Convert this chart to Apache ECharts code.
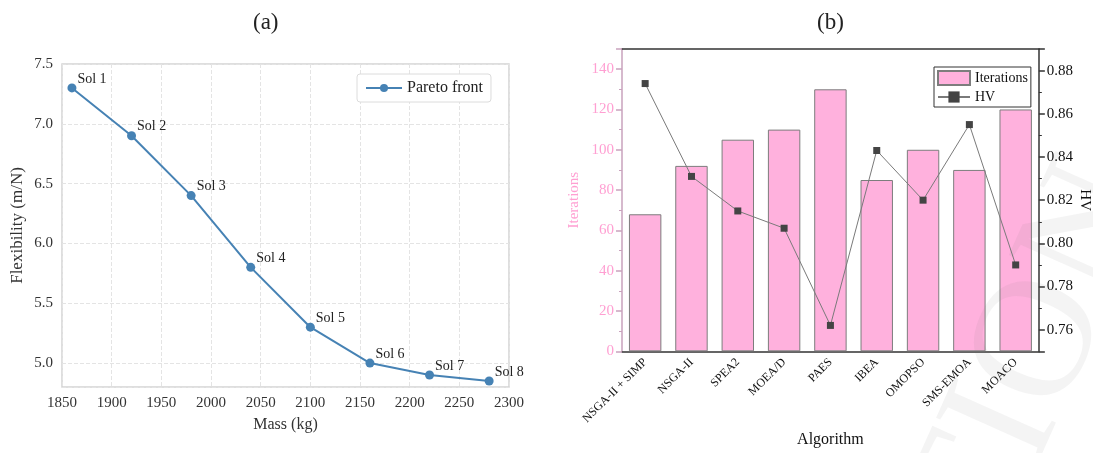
<!DOCTYPE html>
<html>
<head>
<meta charset="utf-8">
<script src="https://cdn.jsdelivr.net/npm/echarts@6/dist/echarts.min.js"></script>
<style>
  html, body { margin: 0; padding: 0; background: #fff; }
  #chart { width: 1093px; height: 453px; }
</style>
</head>
<body>
<div id="chart"></div>
<script>
// (a) Pareto front
const solNames = ['Sol 1', 'Sol 2', 'Sol 3', 'Sol 4', 'Sol 5', 'Sol 6', 'Sol 7', 'Sol 8'];
const massVals = [1860, 1920, 1980, 2040, 2100, 2160, 2220, 2280];
const flexVals = [7.3, 6.9, 6.4, 5.8, 5.3, 5.0, 4.9, 4.85];

// (b) algorithms
const algorithms = ['NSGA-II + SIMP', 'NSGA-II', 'SPEA2', 'MOEA/D', 'PAES', 'IBEA', 'OMOPSO', 'SMS-EMOA', 'MOACO'];
const iterations = [68, 92, 105, 110, 130, 85, 100, 90, 120];
const hvVals = [0.874, 0.831, 0.815, 0.807, 0.762, 0.843, 0.820, 0.855, 0.790];

const serif = 'Liberation Serif';
const chart = echarts.init(document.getElementById('chart'));

chart.setOption({
    backgroundColor: '#fff',
    textStyle: { fontFamily: serif },
    title: [
        { text: '(a)', left: 248, top: 6, textStyle: { fontFamily: serif, fontSize: 23, fontWeight: 'normal', color: '#222' } },
        { text: '(b)', left: 812, top: 6, textStyle: { fontFamily: serif, fontSize: 23, fontWeight: 'normal', color: '#222' } }
    ],
    legend: [
        {
            data: ['Pareto front'],
            left: 357, top: 74,
            orient: 'vertical',
            padding: [6, 8, 6, 8],
            borderColor: '#dcdcdc', borderWidth: 1, borderRadius: 3,
            backgroundColor: '#fff',
            itemWidth: 36, itemHeight: 10,
            textStyle: { fontFamily: serif, fontSize: 16, color: '#222' }
        },
        {
            data: [{ name: 'Iterations', icon: 'rect' }, { name: 'HV' }],
            left: 934, top: 67,
            orient: 'vertical',
            itemGap: 4,
            padding: [3, 3, 3, 3],
            borderColor: '#333', borderWidth: 1, borderRadius: 0,
            backgroundColor: '#fff',
            itemWidth: 32, itemHeight: 14,
            textStyle: { fontFamily: serif, fontSize: 14, color: '#111' }
        }
    ],
    grid: [
        { left: 62, top: 64, width: 447, height: 323, show: true, borderColor: '#d4d4d4', borderWidth: 1.5 },
        { left: 622, top: 49, width: 418, height: 318 }
    ],
    xAxis: [
        {
            gridIndex: 0, type: 'value', min: 1850, max: 2300, interval: 50,
            name: 'Mass (kg)', nameLocation: 'middle', nameGap: 30,
            nameTextStyle: { fontFamily: serif, fontSize: 16, color: '#333' },
            axisLine: { show: false }, axisTick: { show: false },
            axisLabel: { fontFamily: serif, fontSize: 15, color: '#333', margin: 9, formatter: v => String(v) },
            splitLine: { show: true, lineStyle: { color: '#e4e4e4', type: 'dashed' } }
        },
        {
            gridIndex: 1, type: 'category', data: algorithms,
            name: 'Algorithm', nameLocation: 'middle', nameGap: 68,
            nameTextStyle: { fontFamily: serif, fontSize: 16, color: '#111' },
            axisLine: { lineStyle: { color: '#333', width: 1.5 } },
            axisTick: { alignWithLabel: true, length: 6, lineStyle: { color: '#333', width: 1.5 } },
            axisLabel: { rotate: 45, fontFamily: serif, fontSize: 12, color: '#111', margin: 9, interval: 0 }
        },
        {
            gridIndex: 1, type: 'category', data: algorithms, position: 'top',
            axisLine: { lineStyle: { color: '#333', width: 1.5 } },
            axisTick: { alignWithLabel: true, inside: true, length: 6, lineStyle: { color: '#333', width: 1.5 } },
            axisLabel: { show: false }
        }
    ],
    yAxis: [
        {
            gridIndex: 0, type: 'value', min: 4.8, max: 7.5, splitNumber: 5,
            minInterval: 0.5, maxInterval: 0.5,
            name: 'Flexibility (m/N)', nameLocation: 'middle', nameGap: 36,
            nameTextStyle: { fontFamily: serif, fontSize: 17, color: '#333' },
            axisLine: { show: false }, axisTick: { show: false },
            axisLabel: { fontFamily: serif, fontSize: 15, color: '#333', margin: 9, showMinLabel: false,
                formatter: v => v.toFixed(1) },
            splitLine: { show: true, lineStyle: { color: '#e4e4e4', type: 'dashed' } }
        },
        {
            gridIndex: 1, type: 'value', min: 0, max: 150, interval: 20,
            name: 'Iterations', nameLocation: 'middle', nameGap: 40,
            nameTextStyle: { fontFamily: serif, fontSize: 15, color: '#ff9fd2' },
            axisLine: { show: true, lineStyle: { color: '#c9a2bd', width: 1.5 } },
            axisTick: { show: true, length: 6, lineStyle: { color: '#c9a2bd', width: 1.5 } },
            minorTick: { show: true, splitNumber: 2, length: 3, lineStyle: { color: '#c9a2bd', width: 1 } },
            axisLabel: { fontFamily: serif, fontSize: 15, color: '#ff9fd2', margin: 8, showMaxLabel: false },
            splitLine: { show: false }
        },
        {
            gridIndex: 1, type: 'value', min: 0.75, max: 0.89, splitNumber: 7,
            minInterval: 0.02, maxInterval: 0.02,
            position: 'right',
            name: 'HV', nameLocation: 'middle', nameGap: 36, nameRotate: -90,
            nameTextStyle: { fontFamily: serif, fontSize: 15, color: '#111' },
            axisLine: { show: true, lineStyle: { color: '#333', width: 1.5 } },
            axisTick: { show: true, length: 6, lineStyle: { color: '#333', width: 1.5 } },
            minorTick: { show: true, splitNumber: 2, length: 3, lineStyle: { color: '#333', width: 1 } },
            axisLabel: { fontFamily: serif, fontSize: 15, color: '#111', margin: 8,
                showMinLabel: false, showMaxLabel: false, formatter: v => v.toFixed(2) },
            splitLine: { show: false }
        }
    ],
    series: [
        {
            name: 'Pareto front', type: 'line',
            xAxisIndex: 0, yAxisIndex: 0,
            data: massVals.map((m, i) => ({ name: solNames[i], value: [m, flexVals[i]] })),
            symbol: 'circle', symbolSize: 9,
            itemStyle: { color: '#4682b4' },
            lineStyle: { color: '#4682b4', width: 2 },
            label: {
                show: true, position: 'right', distance: 1, offset: [0, -9],
                formatter: p => p.name,
                fontFamily: serif, fontSize: 14, color: '#222'
            },
            z: 3
        },
        {
            name: 'Iterations', type: 'bar',
            xAxisIndex: 1, yAxisIndex: 1,
            data: iterations,
            barWidth: '70%',
            itemStyle: { color: '#ffb1dd', borderColor: '#7d7d7d', borderWidth: 1 }
        },
        {
            name: 'HV', type: 'line',
            xAxisIndex: 1, yAxisIndex: 2,
            data: hvVals,
            symbol: 'rect', symbolSize: 7,
            itemStyle: { color: '#444' },
            lineStyle: { color: '#7a7a7a', width: 1 },
            z: 4
        }
    ],
    graphic: [
        {
            type: 'text', x: 1035, y: 360, rotation: 1.15,
            silent: true, z: 100,
            style: {
                text: 'TION', fontFamily: serif, fontSize: 170,
                fill: 'rgba(120,120,120,0.08)', align: 'center', verticalAlign: 'middle'
            }
        }
    ]
});
</script>
</body>
</html>
